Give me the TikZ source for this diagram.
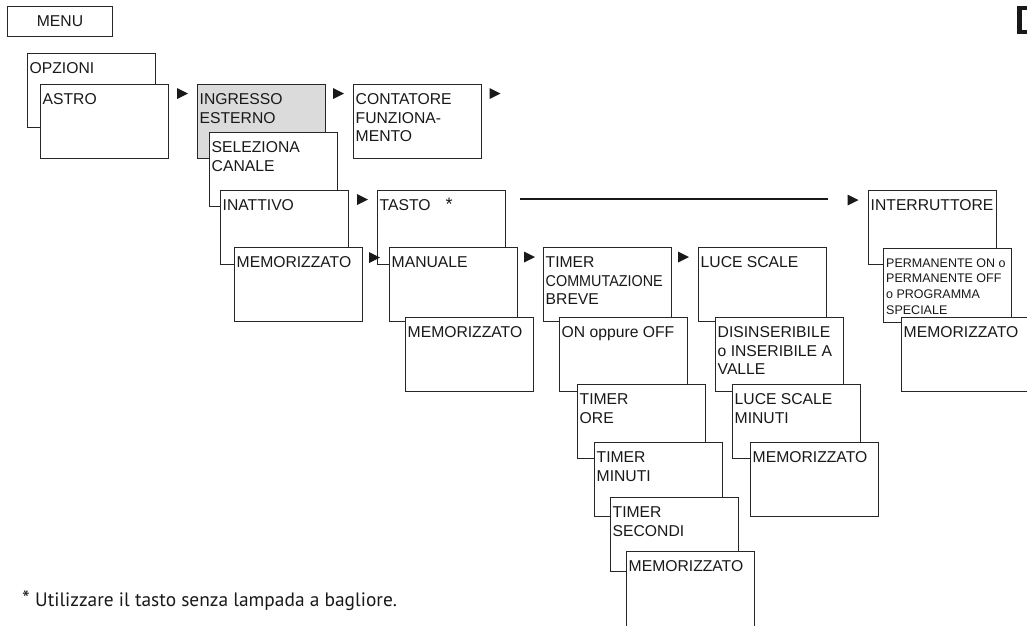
\documentclass[tikz,border=0pt]{standalone}
\usepackage{fontspec}
\setmainfont{Liberation Sans}
\newfontfamily\notefont{PT Sans}
\usetikzlibrary{calc}
\tikzset{
  menubox/.style={draw=black!85, line width=1pt, fill=white, minimum width=128pt, minimum height=74pt, inner sep=0pt, anchor=north west},
  graybox/.style={menubox, fill=black!14},
  boxtext/.style={anchor=base west, inner sep=0pt, font=\fontsize{15.7}{18.5}\selectfont, text=black!90},
  smalltext/.style={anchor=base west, inner sep=0pt, font=\fontsize{12.5}{15.7}\selectfont, text=black!90},
  tri/.style={fill=black!90},
}
\newcommand\lns[1]{\parbox[t]{135pt}{\raggedright #1}}
\newcommand\arrowat[1]{\fill[tri] #1 -- ++(-11,-5.5) -- ++(0,11) -- cycle;}
\begin{document}
\begin{tikzpicture}[x=1pt,y=-1pt]
\useasboundingbox (0,0) rectangle (1027,625);
% MENU
\node[draw=black!85, line width=1pt, minimum width=105pt, minimum height=30pt, inner sep=0pt, anchor=north west, font=\fontsize{15.7}{18.5}\selectfont, text=black!90] (menu) at (7,6) {MENU};
% top right mark
\fill[black!90] (1017,6) rectangle (1032,34);
\fill[white] (1022,10) rectangle (1032,30);

% column 1
\node[menubox] (opz) at (27,53) {};
\node[boxtext] (topz) at ($(opz.north west)+(2.5,20.5)$) {\lns{OPZIONI}};
\node[menubox] (astro) at (40,84) {};
\node[boxtext] (tastro) at ($(astro.north west)+(2.5,20.5)$) {\lns{ASTRO}};

% ingresso esterno chain
\node[graybox] (ingr) at (197,84) {};
\node[boxtext] (tingr) at ($(ingr.north west)+(2.5,20.5)$) {\lns{INGRESSO\\ESTERNO}};
\node[menubox] (selez) at (209,132) {};
\node[boxtext] (tselez) at ($(selez.north west)+(2.5,20.5)$) {\lns{SELEZIONA\\CANALE}};
\node[menubox] (inatt) at (220,190) {};
\node[boxtext] (tinatt) at ($(inatt.north west)+(2.5,20.5)$) {\lns{INATTIVO}};
\node[menubox] (mema) at (234,247) {};
\node[boxtext] (tmema) at ($(mema.north west)+(2.5,20.5)$) {\lns{MEMORIZZATO}};

% contatore
\node[menubox] (cont) at (353,84) {};
\node[boxtext] (tcont) at ($(cont.north west)+(2.5,20.5)$) {\lns{CONTATORE\\FUNZIONA-\\MENTO}};

% tasto chain
\node[menubox] (tasto) at (377,190) {};
\node[boxtext] (ttasto) at ($(tasto.north west)+(2.5,20.5)$) {\lns{TASTO\hspace{15pt}{\fontsize{18}{18}\selectfont*}}};
\node[menubox] (manu) at (389,247) {};
\node[boxtext] (tmanu) at ($(manu.north west)+(2.5,20.5)$) {\lns{MANUALE}};
\node[menubox] (memb) at (405,317) {};
\node[boxtext] (tmemb) at ($(memb.north west)+(2.5,20.5)$) {\lns{MEMORIZZATO}};

% timer chain
\node[menubox] (timer) at (543,247) {};
\node[boxtext] (ttimer) at ($(timer.north west)+(2.5,20.5)$) {\lns{TIMER\\\scalebox{0.915}[1]{COMMUTAZIONE}\\BREVE}};
\node[menubox] (onoff) at (559,317) {};
\node[boxtext] (tonoff) at ($(onoff.north west)+(2.5,20.5)$) {\lns{ON oppure OFF}};
\node[menubox] (tore) at (577,384) {};
\node[boxtext] (ttore) at ($(tore.north west)+(2.5,20.5)$) {\lns{TIMER\\ORE}};
\node[menubox] (tmin) at (594,442) {};
\node[boxtext] (ttmin) at ($(tmin.north west)+(2.5,20.5)$) {\lns{TIMER\\MINUTI}};
\node[menubox] (tsec) at (610,497) {};
\node[boxtext] (ttsec) at ($(tsec.north west)+(2.5,20.5)$) {\lns{TIMER\\SECONDI}};
\node[menubox, minimum height=82pt] (memc) at (626,551) {};
\node[boxtext] (tmemc) at ($(memc.north west)+(2.5,20.5)$) {\lns{MEMORIZZATO}};

% luce scale chain
\node[menubox] (luce) at (698,247) {};
\node[boxtext] (tluce) at ($(luce.north west)+(2.5,20.5)$) {\lns{LUCE SCALE}};
\node[menubox] (disins) at (715,317) {};
\node[boxtext] (tdisins) at ($(disins.north west)+(2.5,20.5)$) {\lns{DISINSERIBILE\\o INSERIBILE A\\VALLE}};
\node[menubox] (lsm) at (732,384) {};
\node[boxtext] (tlsm) at ($(lsm.north west)+(2.5,20.5)$) {\lns{LUCE SCALE\\MINUTI}};
\node[menubox] (memd) at (750,442) {};
\node[boxtext] (tmemd) at ($(memd.north west)+(2.5,20.5)$) {\lns{MEMORIZZATO}};

% interruttore chain
\node[menubox] (inter) at (868,190) {};
\node[boxtext] (tinter) at ($(inter.north west)+(2.5,20.5)$) {\lns{INTERRUTTORE}};
\node[menubox] (perm) at (883,248) {};
\node[smalltext] (tperm) at ($(perm.north west)+(3,19)$) {\lns{PERMANENTE ON o\\PERMANENTE OFF\\o PROGRAMMA\\SPECIALE}};
\node[menubox] (meme) at (901,317) {};
\node[boxtext] (tmeme) at ($(meme.north west)+(2.5,20.5)$) {\lns{MEMORIZZATO}};

% arrows
\arrowat{($(ingr.north west)+(-9,9.5)$)}
\arrowat{($(cont.north west)+(-9,9.5)$)}
\arrowat{($(cont.north east)+(18.5,9.5)$)}
\arrowat{($(tasto.north west)+(-9,9.5)$)}
\arrowat{($(manu.north west)+(-9,10.5)$)}
\arrowat{($(timer.north west)+(-8,10)$)}
\arrowat{($(luce.north west)+(-9,10)$)}
\arrowat{($(inter.north west)+(-9.5,10)$)}

% long line
\coordinate (ls) at ($(tasto.north east)+(14,9)$);
\coordinate (le) at ($(inter.north west)+(-40,9)$);
\draw[line width=2.2pt, black!90] (ls) -- (le);

% footnote
\node[anchor=base west, inner sep=0pt, font=\notefont\fontsize{19.4}{22}\selectfont, text=black!90] (fn) at (22,606) {{\fontsize{22}{22}\selectfont*} Utilizzare il tasto senza lampada a bagliore.};
\end{tikzpicture}
\end{document}
